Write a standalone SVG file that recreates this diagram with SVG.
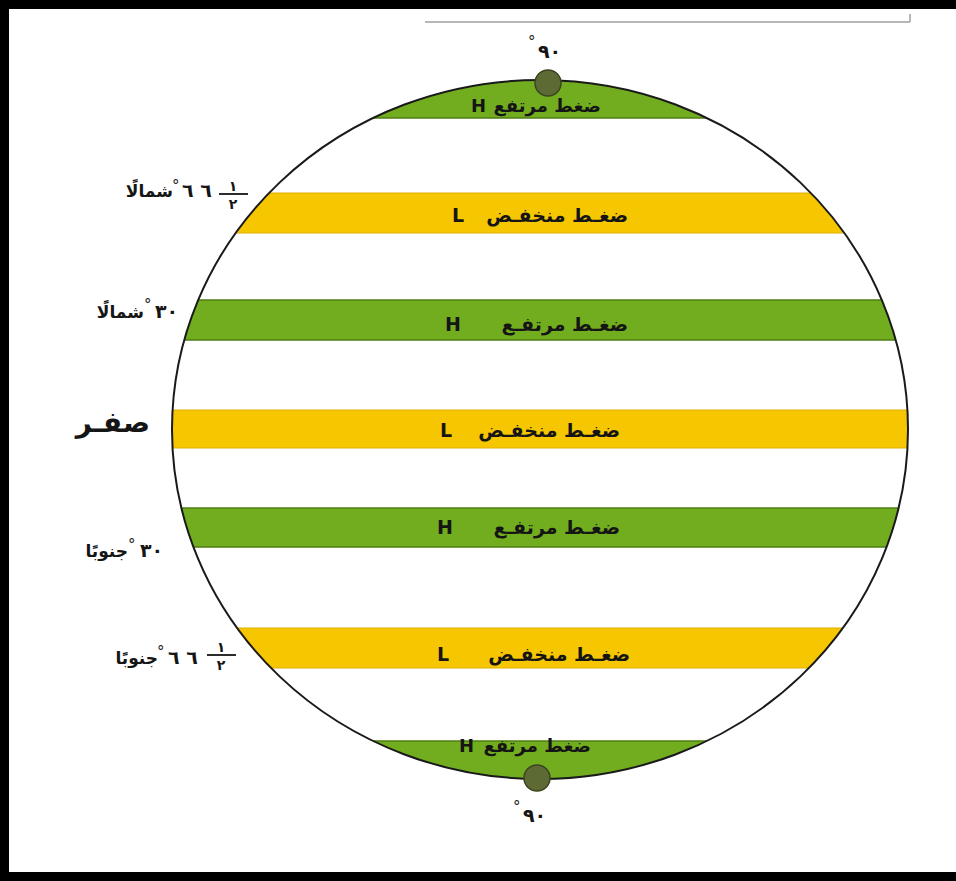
<svg xmlns="http://www.w3.org/2000/svg" width="956" height="881" viewBox="0 0 956 881">
<style>
.t{font-family:"DejaVu Sans",sans-serif;font-weight:bold;fill:#151515}
.band{font-size:19px}
.cap{font-size:18px}
.lbl{font-size:17px}
.num{font-size:19px}
.deg{font-size:15px;font-weight:normal}
.frac{font-size:14px}
.g{fill:#72ad1f;stroke:#4f7d14;stroke-width:1.5}
.y{fill:#f6c700;stroke:#e0b000;stroke-width:1}
.dot{fill:#5d6a34;stroke:#3c4420;stroke-width:1.5}
</style>
<defs>
<clipPath id="globe"><ellipse cx="540" cy="429.5" rx="368" ry="349.5"/></clipPath>
</defs>
<rect x="0" y="0" width="956" height="881" fill="#ffffff"/>
<line x1="425" y1="22" x2="910" y2="22" stroke="#a0a0a0" stroke-width="1.5"/>
<line x1="910" y1="14" x2="910" y2="22" stroke="#a0a0a0" stroke-width="1.5"/>
<g id="bands" clip-path="url(#globe)">
<rect id="cap-top" class="g" x="150" y="60" width="780" height="58"/>
<rect id="band-66n" class="y" x="150" y="193" width="780" height="40"/>
<rect id="band-30n" class="g" x="150" y="300" width="780" height="40"/>
<rect id="band-0" class="y" x="150" y="410" width="780" height="38"/>
<rect id="band-30s" class="g" x="150" y="508" width="780" height="39"/>
<rect id="band-66s" class="y" x="150" y="628" width="780" height="40"/>
<rect id="cap-bottom" class="g" x="150" y="741" width="780" height="60"/>
</g>
<ellipse id="globe-outline" cx="540" cy="429.5" rx="368" ry="349.5" fill="none" stroke="#1a1a1a" stroke-width="2"/>
<g id="pole-n"><circle class="dot" cx="548" cy="83" r="13"/></g>
<g id="pole-s"><circle class="dot" cx="537" cy="778" r="13"/></g>
<g id="band-texts">
<g id="t-cap-top"><text class="t cap" x="601" y="112" text-anchor="end">ضغط مرتفع</text><text class="t cap" x="471" y="112">H</text></g>
<g id="t-66n"><text class="t band" x="628" y="222" text-anchor="end">ضغـط منخفـض</text><text class="t band" x="452" y="222">L</text></g>
<g id="t-30n"><text class="t band" x="628" y="331" text-anchor="end">ضغـط مرتفـع</text><text class="t band" x="445" y="331">H</text></g>
<g id="t-0"><text class="t band" x="620" y="437" text-anchor="end">ضغـط منخفـض</text><text class="t band" x="440" y="437">L</text></g>
<g id="t-30s"><text class="t band" x="620" y="534" text-anchor="end">ضغـط مرتفـع</text><text class="t band" x="437" y="534">H</text></g>
<g id="t-66s"><text class="t band" x="630" y="661" text-anchor="end">ضغـط منخفـض</text><text class="t band" x="437" y="661">L</text></g>
<g id="t-cap-bottom"><text class="t cap" x="591" y="752" text-anchor="end">ضغط مرتفع</text><text class="t cap" x="459" y="752">H</text></g>
</g>
<g id="lat-labels">
<g id="l-90n"><text class="t deg" x="528" y="47">°</text><text class="t num" x="538" y="58">٩٠</text></g>
<g id="l-66n"><text class="t lbl" x="173" y="197" text-anchor="end">شمالًا</text><text class="t deg" x="172" y="191">°</text><text class="t num" x="182" y="197">٦ ٦</text><text class="t frac" x="233" y="191" text-anchor="middle">١</text><line x1="219" y1="194" x2="248" y2="194" stroke="#151515" stroke-width="1.8"/><text class="t frac" x="233" y="209" text-anchor="middle">٢</text></g>
<g id="l-30n"><text class="t lbl" x="144" y="318" text-anchor="end">شمالًا</text><text class="t deg" x="144" y="310">°</text><text class="t num" x="155" y="318">٣٠</text></g>
<g id="l-0"><text class="t" style="font-size:28px" x="150" y="432" text-anchor="end">صفـر</text></g>
<g id="l-30s"><text class="t lbl" x="128" y="557" text-anchor="end">جنوبًا</text><text class="t deg" x="128" y="550">°</text><text class="t num" x="140" y="557">٣٠</text></g>
<g id="l-66s"><text class="t lbl" x="158" y="664" text-anchor="end">جنوبًا</text><text class="t deg" x="157" y="657">°</text><text class="t num" x="168" y="664">٦ ٦</text><text class="t frac" x="221" y="652" text-anchor="middle">١</text><line x1="207" y1="655" x2="236" y2="655" stroke="#151515" stroke-width="1.8"/><text class="t frac" x="221" y="670" text-anchor="middle">٢</text></g>
<g id="l-90s"><text class="t deg" x="513" y="812">°</text><text class="t num" x="523" y="822">٩٠</text></g>
</g>
<g id="connectors"/>
<rect x="4.5" y="4.5" width="970" height="872" fill="none" stroke="#000" stroke-width="9"/>
</svg>
